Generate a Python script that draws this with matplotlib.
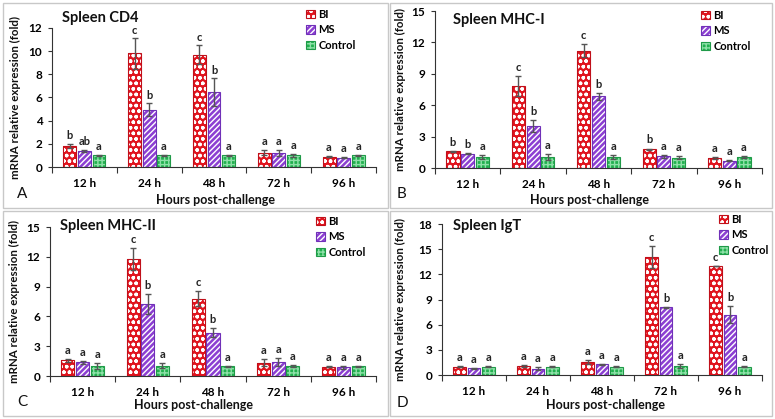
import matplotlib
matplotlib.use("Agg")
import matplotlib.pyplot as plt
import numpy as np
from matplotlib.patches import Rectangle, Patch

plt.rcParams['font.family'] = ['Lato', 'DejaVu Sans']
plt.rcParams['hatch.linewidth'] = 1.0

W, H = 775, 419

hours = ["12 h", "24 h", "48 h", "72 h", "96 h"]
groups = ["BI", "MS", "Control"]

# Panel A: Spleen CD4
cd4_bi = [1.8, 9.8, 9.7, 1.25, 0.9]
cd4_ms = [1.4, 4.95, 6.45, 1.2, 0.8]
cd4_ct = [1.0, 1.0, 1.0, 1.0, 1.0]
cd4_bi_err = [0.2, 1.3, 0.8, 0.2, 0.05]
cd4_ms_err = [0.1, 0.55, 1.2, 0.25, 0.05]
cd4_ct_err = [0.05, 0.05, 0.05, 0.15, 0.05]
cd4_letters = [["b", "ab", "a"], ["c", "b", "a"], ["c", "b", "a"], ["a", "a", "a"], ["a", "a", "a"]]

# Panel B: Spleen MHC-I
mhc1_bi = [1.6, 7.85, 11.2, 1.8, 0.95]
mhc1_ms = [1.35, 4.0, 6.85, 1.1, 0.7]
mhc1_ct = [1.05, 1.05, 1.05, 1.0, 1.05]
mhc1_bi_err = [0.05, 0.95, 0.6, 0.05, 0.1]
mhc1_ms_err = [0.05, 0.6, 0.35, 0.15, 0.05]
mhc1_ct_err = [0.15, 0.25, 0.2, 0.1, 0.1]
mhc1_letters = [["b", "b", "a"], ["c", "b", "a"], ["c", "b", "a"], ["b", "a", "a"], ["a", "a", "a"]]

# Panel C: Spleen MHC-II
mhc2_bi = [1.6, 11.8, 7.8, 1.35, 0.95]
mhc2_ms = [1.4, 7.25, 4.35, 1.4, 0.9]
mhc2_ct = [1.05, 1.05, 1.0, 1.0, 1.0]
mhc2_bi_err = [0.15, 1.1, 0.75, 0.35, 0.05]
mhc2_ms_err = [0.15, 1.05, 0.45, 0.4, 0.15]
mhc2_ct_err = [0.3, 0.25, 0.05, 0.1, 0.05]
mhc2_letters = [["a", "a", "a"], ["c", "b", "a"], ["c", "b", "a"], ["a", "a", "a"], ["a", "a", "a"]]

# Panel D: Spleen IgT
igt_bi = [1.0, 1.05, 1.55, 14.05, 13.0]
igt_ms = [0.8, 0.75, 1.3, 8.05, 7.2]
igt_ct = [1.0, 1.0, 1.0, 1.05, 1.0]
igt_bi_err = [0.05, 0.1, 0.25, 1.35, 0.05]
igt_ms_err = [0.05, 0.2, 0.05, 0.1, 1.05]
igt_ct_err = [0.05, 0.1, 0.1, 0.25, 0.1]
igt_letters = [["a", "a", "a"], ["a", "a", "a"], ["a", "a", "a"], ["c", "b", "a"], ["c", "b", "a"]]

colors = ["#e0141e", "#8c3fd2", "#22b04f"]
edges = ["#c0101a", "#7030b8", "#1f9a48"]
hatch_cols = ["white", "white", "#8ee0a8"]
hatches = ["ooo", "//////", "++++"]

panels = [
    dict(title="Spleen CD4", letter="A", vals=[cd4_bi, cd4_ms, cd4_ct],
         errs=[cd4_bi_err, cd4_ms_err, cd4_ct_err], letters=cd4_letters,
         ymax=12, ystep=2, ax_px=(52, 376, 28, 167), frame=(3, 388, 3, 208),
         title_px=(62, 18), leg_px=(306, 9), xl_px=(215, 200), pl_px=(22, 194), yl_x=15),
    dict(title="Spleen MHC-I", letter="B", vals=[mhc1_bi, mhc1_ms, mhc1_ct],
         errs=[mhc1_bi_err, mhc1_ms_err, mhc1_ct_err], letters=mhc1_letters,
         ymax=15, ystep=3, ax_px=(435, 762, 11, 168), frame=(390, 772, 3, 208),
         title_px=(453, 20), leg_px=(701, 10), xl_px=(590, 200), pl_px=(402, 194), yl_x=400),
    dict(title="Spleen MHC-II", letter="C", vals=[mhc2_bi, mhc2_ms, mhc2_ct],
         errs=[mhc2_bi_err, mhc2_ms_err, mhc2_ct_err], letters=mhc2_letters,
         ymax=15, ystep=3, ax_px=(50, 376, 227, 376), frame=(3, 388, 211, 416),
         title_px=(60, 226), leg_px=(316, 216), xl_px=(193, 405), pl_px=(22, 402), yl_x=14),
    dict(title="Spleen IgT", letter="D", vals=[igt_bi, igt_ms, igt_ct],
         errs=[igt_bi_err, igt_ms_err, igt_ct_err], letters=igt_letters,
         ymax=18, ystep=3, ax_px=(442, 762, 224, 375), frame=(390, 772, 211, 416),
         title_px=(453, 226), leg_px=(719, 214), xl_px=(605, 405), pl_px=(402, 403), yl_x=400),
]

fig = plt.figure(figsize=(W / 100, H / 100), dpi=100)

def fx(x):
    return x / W

def fy(y):
    return 1 - y / H

bw = 0.2
gap = 0.025
offsets = [-(bw + gap), 0, bw + gap]
x = np.arange(len(hours))

for p in panels:
    fx0, fx1, fy0, fy1 = p["frame"]
    fig.patches.append(Rectangle((fx(fx0), fy(fy1)), fx(fx1 - fx0), (fy1 - fy0) / H,
                                 transform=fig.transFigure, fill=False,
                                 edgecolor="#c8c8c8", linewidth=1.0))
    l, r, t, b = p["ax_px"]
    ax = fig.add_axes([fx(l), fy(b), (r - l) / W, (b - t) / H])
    for gi in range(3):
        pos = x + offsets[gi]
        ax.bar(pos, p["vals"][gi], width=bw, color=colors[gi], edgecolor=hatch_cols[gi],
               hatch=hatches[gi], linewidth=0, zorder=2)
        ax.bar(pos, p["vals"][gi], width=bw, fill=False, edgecolor=edges[gi],
               linewidth=0.8, zorder=3)
        ax.errorbar(pos, p["vals"][gi], yerr=p["errs"][gi], fmt="none",
                    ecolor="#555555", elinewidth=1.0, capsize=2.5, capthick=1.0, zorder=4)
        for k in range(len(hours)):
            ax.text(pos[k], p["vals"][gi][k] + p["errs"][gi][k] + p["ymax"] * 0.02,
                    p["letters"][k][gi], ha="center", va="bottom", fontsize=8,
                    fontweight="bold", color="#222222", zorder=5)
    ax.set_xlim(-0.5, len(hours) - 0.5)
    ax.set_ylim(0, p["ymax"])
    ax.set_yticks(np.arange(0, p["ymax"] + 0.1, p["ystep"]))
    ax.set_yticklabels([f"{int(v)}" for v in np.arange(0, p["ymax"] + 0.1, p["ystep"])],
                       fontsize=8.5, fontweight="bold")
    ax.set_xticks(np.arange(-0.5, len(hours), 1.0))
    ax.set_xticklabels([])
    ax.set_xticks(x, minor=True)
    ax.set_xticklabels(hours, minor=True, fontsize=8.5, fontweight="bold")
    ax.tick_params(axis="x", which="minor", length=0, pad=8)
    ax.tick_params(axis="x", which="major", length=4, width=0.8, color="#333333")
    ax.tick_params(axis="y", length=3, width=0.8, color="#333333", pad=4)
    for s in ["top", "right"]:
        ax.spines[s].set_visible(False)
    for s in ["left", "bottom"]:
        ax.spines[s].set_color("#333333")
        ax.spines[s].set_linewidth(0.8)
    ax.patch.set_alpha(0)

    fig.text(fx(p["title_px"][0]), fy(p["title_px"][1]), p["title"], fontsize=10.5,
             fontweight="bold", ha="left", va="center", color="#111111")
    fig.text(fx(p["xl_px"][0]), fy(p["xl_px"][1]), "Hours post-challenge", fontsize=9,
             fontweight="bold", ha="center", va="center", color="#111111")
    fig.text(fx(p["pl_px"][0]), fy(p["pl_px"][1]), p["letter"], fontsize=11,
             ha="center", va="center", color="#111111")
    fig.text(fx(p["yl_x"]), fy((t + b) / 2), "mRNA relative expression (fold)", fontsize=8.3,
             fontweight="bold", rotation=90, ha="center", va="center", color="#111111")

    handles = [(Patch(facecolor=colors[i], edgecolor=hatch_cols[i], hatch=hatches[i], linewidth=0),
                Patch(fill=False, edgecolor=edges[i], linewidth=0.8))
               for i in range(3)]
    ax.legend(handles, groups, loc="upper left",
              bbox_to_anchor=(fx(p["leg_px"][0]), fy(p["leg_px"][1])),
              bbox_transform=fig.transFigure, frameon=False,
              prop=dict(size=8, weight="bold"), handlelength=0.8, handleheight=0.8,
              handletextpad=0.3, labelspacing=0.4, borderpad=0, borderaxespad=0)

fig.savefig("out.png", dpi=100)
